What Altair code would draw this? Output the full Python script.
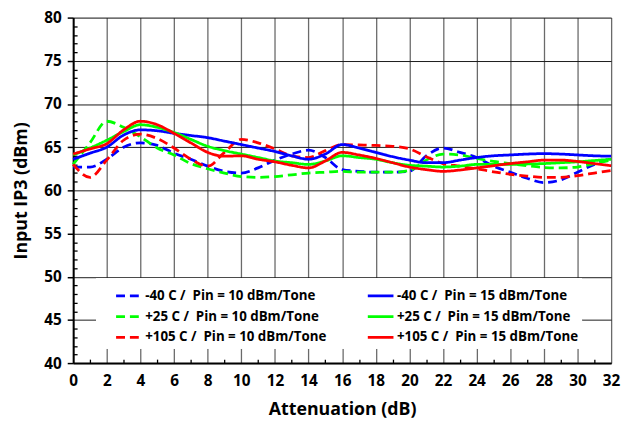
import altair as alt
import pandas as pd

atten = list(range(0, 33))

m40_p10 = [62.7, 62.7, 63.6, 65.0, 65.5, 65.2, 64.3, 63.6, 62.8, 62.2, 62.0, 62.6, 63.5, 64.2, 64.65, 63.8,
           62.4, 62.2, 62.1, 62.1, 62.2, 64.0, 64.9, 64.4, 63.8, 62.8, 62.1, 61.4, 60.9, 61.2, 62.1, 63.0, 63.7]
m40_p15 = [63.6, 64.3, 65.0, 66.4, 67.0, 66.9, 66.6, 66.35, 66.1, 65.7, 65.3, 64.9, 64.5, 64.0, 63.6, 64.2,
           65.3, 64.9, 64.4, 63.9, 63.5, 63.2, 63.2, 63.5, 63.8, 64.0, 64.1, 64.2, 64.25, 64.2, 64.1, 64.0, 63.95]
p25_p10 = [63.0, 65.5, 68.0, 67.3, 66.2, 64.9, 64.1, 63.1, 62.5, 62.0, 61.6, 61.5, 61.6, 61.8, 62.0, 62.1,
           62.2, 62.1, 62.1, 62.1, 62.3, 63.5, 64.2, 64.1, 63.7, 63.35, 63.1, 62.85, 62.65, 62.6, 62.7, 63.1, 63.5]
p25_p15 = [64.1, 64.9, 65.8, 66.8, 67.6, 67.3, 66.7, 65.9, 65.1, 64.6, 64.2, 63.8, 63.4, 63.2, 63.0, 63.4,
           64.0, 63.8, 63.6, 63.2, 62.9, 62.8, 62.7, 62.8, 63.0, 63.0, 63.0, 63.05, 63.1, 63.2, 63.3, 63.45, 63.6]
p105_p10 = [63.0, 61.5, 63.5, 65.8, 66.5, 66.0, 64.9, 63.6, 62.8, 64.4, 65.9, 65.5, 64.8, 64.0, 63.8, 64.6,
            65.3, 65.25, 65.2, 65.1, 64.8, 63.9, 63.1, 62.8, 62.5, 62.15, 61.85, 61.65, 61.5, 61.5, 61.7, 62.0, 62.3]
p105_p15 = [64.2, 64.8, 65.4, 67.0, 68.0, 67.6, 66.6, 65.5, 64.4, 63.95, 64.0, 63.6, 63.3, 62.9, 62.6, 63.4,
            64.4, 64.1, 63.7, 63.2, 62.7, 62.4, 62.2, 62.35, 62.6, 62.85, 63.1, 63.3, 63.5, 63.5, 63.35, 63.1, 62.85]

# legend is filled column by column: dashed (10 dBm) column first, then solid (15 dBm)
series_names = [
    "-40 C /\u00a0 Pin = 10 dBm/Tone",
    "+25 C /\u00a0 Pin = 10 dBm/Tone",
    "+105 C /\u00a0 Pin = 10 dBm/Tone",
    "-40 C /\u00a0 Pin = 15 dBm/Tone",
    "+25 C /\u00a0 Pin = 15 dBm/Tone",
    "+105 C /\u00a0 Pin = 15 dBm/Tone",
]
series_values = [m40_p10, p25_p10, p105_p10, m40_p15, p25_p15, p105_p15]
series_colors = ["#0000ff", "#00ff00", "#ff0000", "#0000ff", "#00ff00", "#ff0000"]
series_dash = [[9, 5], [9, 5], [9, 5], [1, 0], [1, 0], [1, 0]]

x_major = list(range(0, 33, 2))
x_minor = list(range(1, 33, 2))
y_major = list(range(40, 81, 5))
y_minor = [v for v in range(41, 80) if v % 5 != 0]

rows = []
for name, vals in zip(series_names, series_values):
    for a, v in zip(atten, vals):
        rows.append({"Attenuation": a, "IP3": v, "Series": name})
df = pd.DataFrame(rows)

FONT = "Open Sans"
W, H = 545, 350

legend = alt.Legend(
    title=None, orient="none", legendX=42, legendY=275, columns=2,
    columnPadding=40, rowPadding=7, clipHeight=14, padding=0,
    symbolType="stroke", symbolSize=676, symbolStrokeWidth=2.8,
    labelOffset=2, labelFont=FONT, labelFontSize=13.5, labelFontWeight="bold",
    labelColor="black", labelLimit=400,
)

xscale = alt.Scale(domain=[0, 32], nice=False)
yscale = alt.Scale(domain=[40, 80], nice=False, zero=False)

legend_bg = alt.Chart(df).mark_rect(color="white").encode(
    x=alt.value(23.5), x2=alt.value(515.5), y=alt.value(264), y2=alt.value(335)
)

lines = alt.Chart(df).mark_line(strokeWidth=2.8, interpolate="monotone").encode(
    x=alt.X("Attenuation:Q", scale=xscale, axis=alt.Axis(
        values=x_major, grid=True, gridColor="#6a6a6a", gridWidth=1.3,
        tickSize=0, domainColor="black", domainWidth=2,
        labelFont=FONT, labelFontSize=15.5, labelFontWeight="bold", labelColor="black",
        labelPadding=11, labelFlush=False, labelOverlap=False,
        title="Attenuation (dB)", titleFont=FONT, titleFontSize=18, titleFontWeight="bold",
        titleColor="black", titlePadding=12)),
    y=alt.Y("IP3:Q", scale=yscale, axis=alt.Axis(
        values=y_major, grid=True, gridColor="#1a1a1a", gridWidth=1,
        tickSize=6, tickColor="black", tickWidth=1.5, domainColor="black", domainWidth=2,
        labelFont=FONT, labelFontSize=15.5, labelFontWeight="bold", labelColor="black",
        labelPadding=6, labelOverlap=False,
        title="Input IP3 (dBm)", titleFont=FONT, titleFontSize=18, titleFontWeight="bold",
        titleColor="black", titlePadding=14)),
    color=alt.Color("Series:N", scale=alt.Scale(domain=series_names, range=series_colors),
                    sort=series_names, legend=legend),
    strokeDash=alt.StrokeDash("Series:N", scale=alt.Scale(domain=series_names, range=series_dash),
                              sort=series_names, legend=legend),
)

minor = alt.Chart(df).mark_point(opacity=0).encode(
    x=alt.X("Attenuation:Q", scale=xscale, axis=alt.Axis(
        orient="top", offset=-H, values=x_minor, tickSize=4, tickColor="black", tickWidth=1.3,
        labels=False, domain=False, grid=False, title=None)),
    y=alt.Y("IP3:Q", scale=yscale, axis=alt.Axis(
        orient="right", offset=-W, values=y_minor, tickSize=4, tickColor="black", tickWidth=1.3,
        labels=False, domain=False, grid=False, title=None)),
)

chart = alt.layer(legend_bg, lines, minor).resolve_axis(
    x="independent", y="independent"
).properties(
    width=W, height=H,
    autosize=alt.AutoSizeParams(type="none"),
    padding={"left": 66, "top": 7, "right": 10, "bottom": 61},
).configure_view(stroke="black", strokeWidth=2).configure(background="white")

chart.save("out.html", embed_options={"renderer": "svg", "actions": False})
